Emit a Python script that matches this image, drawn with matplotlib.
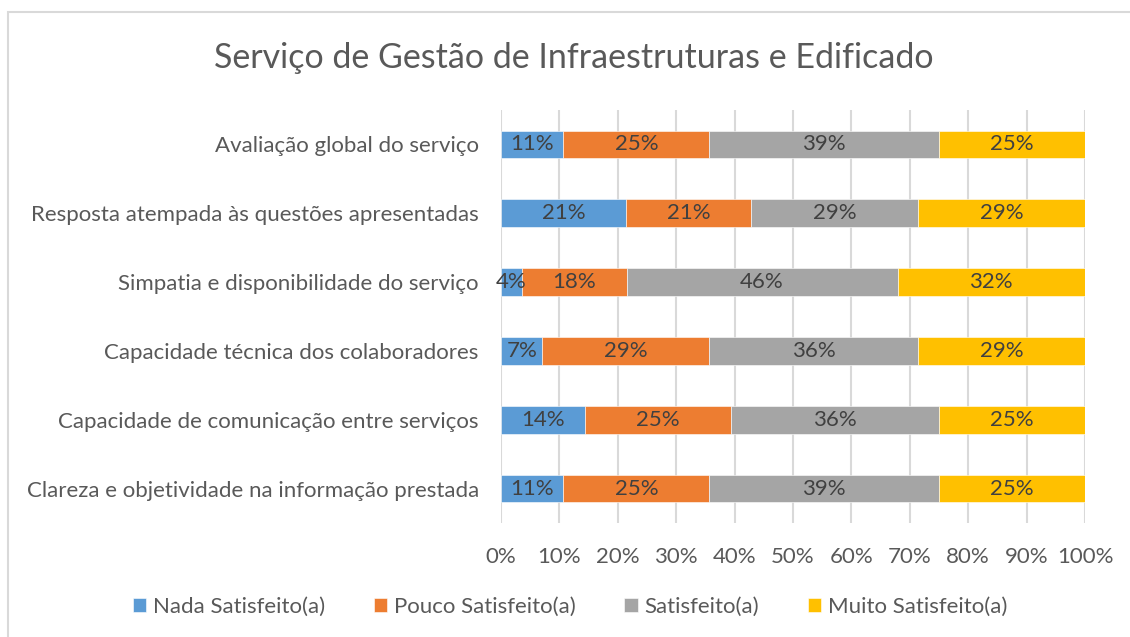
import matplotlib.pyplot as plt
import numpy as np
from matplotlib.patches import Rectangle

plt.rcParams["font.family"] = ["Lato", "DejaVu Sans"]

categories = [
    "Clareza e objetividade na informação prestada",
    "Capacidade de comunicação entre serviços",
    "Capacidade técnica dos colaboradores",
    "Simpatia e disponibilidade do serviço",
    "Resposta atempada às questões apresentadas",
    "Avaliação global do serviço",
]
series_names = [
    "Nada Satisfeito(a)",
    "Pouco Satisfeito(a)",
    "Satisfeito(a)",
    "Muito Satisfeito(a)",
]
nada = [10.7, 14.3, 7.1, 3.6, 21.4, 10.7]
pouco = [25.0, 25.0, 28.6, 17.9, 21.4, 25.0]
satisfeito = [39.3, 35.7, 35.7, 46.4, 28.6, 39.3]
muito = [25.0, 25.0, 28.6, 32.1, 28.6, 25.0]
x_ticks = [0, 10, 20, 30, 40, 50, 60, 70, 80, 90, 100]

colors = ["#5B9BD5", "#ED7D31", "#A5A5A5", "#FFC000"]
text_color = "#595959"
fs = 16

fig = plt.figure(figsize=(11.3, 6.37), dpi=100)
ax = fig.add_axes([501 / 1130, 1 - 523 / 637, 584 / 1130, 413 / 637])

# chart frame
fig.patches.append(
    Rectangle((7.5 / 1130, -0.1), 1.2, 1 - 11.5 / 637 + 0.1,
              transform=fig.transFigure, fill=False,
              edgecolor="#d9d9d9", linewidth=1.5)
)

y = np.arange(len(categories))
left = np.zeros(len(categories))
for name, vals, color in zip(series_names, [nada, pouco, satisfeito, muito], colors):
    vals = np.array(vals)
    ax.barh(y, vals, left=left, height=0.4, color=color, label=name,
            edgecolor="white", linewidth=0.4, zorder=3)
    for xi, yi, v in zip(left + vals / 2, y, vals):
        ax.text(xi, yi, f"{v:.0f}%", ha="center", va="center",
                fontsize=fs, color="#404040", zorder=4)
    left += vals

ax.set_xlim(0, 100)
ax.set_ylim(-0.5, len(categories) - 0.5)
ax.set_xticks(x_ticks)
ax.set_xticklabels([f"{t}%" for t in x_ticks])
ax.set_yticks(y)
ax.set_yticklabels(categories)
ax.tick_params(axis="both", length=0, labelsize=fs, labelcolor=text_color)
ax.tick_params(axis="x", pad=17)
ax.tick_params(axis="y", pad=16)
ax.grid(axis="x", color="#d9d9d9", linewidth=1.5, zorder=0)
for side in ["top", "right", "bottom", "left"]:
    ax.spines[side].set_visible(False)

fig.text(574 / 1130, 1 - 58 / 637, "Serviço de Gestão de Infraestruturas e Edificado",
         ha="center", va="center", fontsize=24.5, color=text_color)

fig.legend(loc="center", bbox_to_anchor=(570 / 1130, 1 - 607 / 637), ncol=4,
           frameon=False, fontsize=fs, labelcolor=text_color,
           handlelength=0.6, handleheight=0.6, handletextpad=0.3,
           columnspacing=2.2)

fig.savefig("out.png", dpi=100)
